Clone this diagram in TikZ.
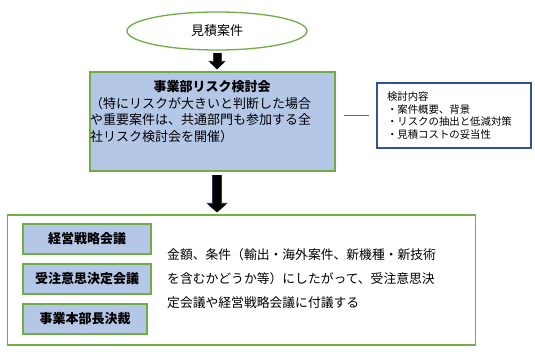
\documentclass[tikz,border=0pt]{standalone}
\usepackage{fontspec}
\setmainfont{Noto Sans CJK JP}
\usepackage{xcolor}
\usepackage{tikz}
\usetikzlibrary{arrows.meta,shapes.geometric}

\definecolor{leafgreen}{HTML}{70AD47}
\definecolor{paleblue}{HTML}{B4C7E7}
\definecolor{linkblue}{HTML}{4472C4}
\definecolor{deepblue}{HTML}{2F5597}
\definecolor{navyedge}{HTML}{203864}

\begin{document}
\begin{tikzpicture}[
    x=1pt, y=-1pt,
    font=\fontsize{13}{16.5}\selectfont,
    oval/.style={draw=leafgreen, line width=1.3pt, ellipse, fill=white, minimum width=180pt, minimum height=38pt},
    bluebox/.style={draw=leafgreen, line width=1.3pt, fill=paleblue, inner sep=0pt},
    resultbox/.style={draw=leafgreen, line width=1.3pt, fill=white, inner sep=0pt},
    notebox/.style={draw=deepblue, line width=1.2pt, fill=white, align=left, text width=134pt, inner xsep=10pt, inner ysep=0pt, minimum height=65pt, font=\fontsize{10.4}{12.5}\selectfont},
    link/.style={draw=linkblue, line width=1.5pt},
    headdown/.style={line width=7pt, black, -{Triangle[width=14pt,length=7pt]},
        preaction={draw=navyedge, line width=9pt, -{Triangle[width=17pt,length=8.5pt]}}},
    headdownlong/.style={line width=7.5pt, black, -{Triangle[width=18pt,length=8pt]},
        preaction={draw=navyedge, line width=9.5pt, -{Triangle[width=21pt,length=9.5pt]}}}
]
\useasboundingbox (0,0) rectangle (535,352);

% top: estimate case and divisional review
\node[oval] (case) at (217,31) {見積案件};
\node[bluebox, minimum width=245pt, minimum height=99pt] (review) at (212.5,121.5) {};
\node[font=\fontsize{13}{16.5}\selectfont\bfseries] (reviewtitle) at (212,87) {事業部リスク検討会};
\node[anchor=north west, align=left, inner sep=0pt] (reviewnote) at (90,97) {（特にリスクが大きいと判断した場合\\や重要案件は、共通部門も参加する全\\社リスク検討会を開催）};
\node[notebox] (points) at (454,115.5) {検討内容\\・案件概要、背景\\・リスクの抽出と低減対策\\・見積コストの妥当性};

% bottom: approval bodies
\node[resultbox, minimum width=468pt, minimum height=130pt] (approval) at (241.75,280) {};
\node[bluebox, minimum width=128pt, minimum height=30pt, font=\fontsize{13}{16.5}\selectfont\bfseries] (strategy) at (87,239) {経営戦略会議};
\node[bluebox, minimum width=128pt, minimum height=30pt, font=\fontsize{13}{16.5}\selectfont\bfseries] (order) at (87,279) {受注意思決定会議};
\node[bluebox, minimum width=124pt, minimum height=30pt, font=\fontsize{13}{16.5}\selectfont\bfseries] (division) at (85,319) {事業本部長決裁};
\node[anchor=west, align=left, inner sep=0pt, font=\fontsize{12.8}{24}\selectfont] (criteria) at (167,279) {金額、条件（輸出・海外案件、新機種・新技術\\を含むかどうか等）にしたがって、受注意思決\\定会議や経営戦略会議に付議する};

\draw[headdown, shorten <=2pt, shorten >=2pt] (case.south) -- (case.south |- review.north);
\draw[headdownlong, shorten <=3pt, shorten >=2pt] (case.south |- review.south) -- (case.south |- approval.north);
\draw[link, shorten <=8pt, shorten >=7pt] (review.east |- points.west) -- (points.west);
\end{tikzpicture}
\end{document}
